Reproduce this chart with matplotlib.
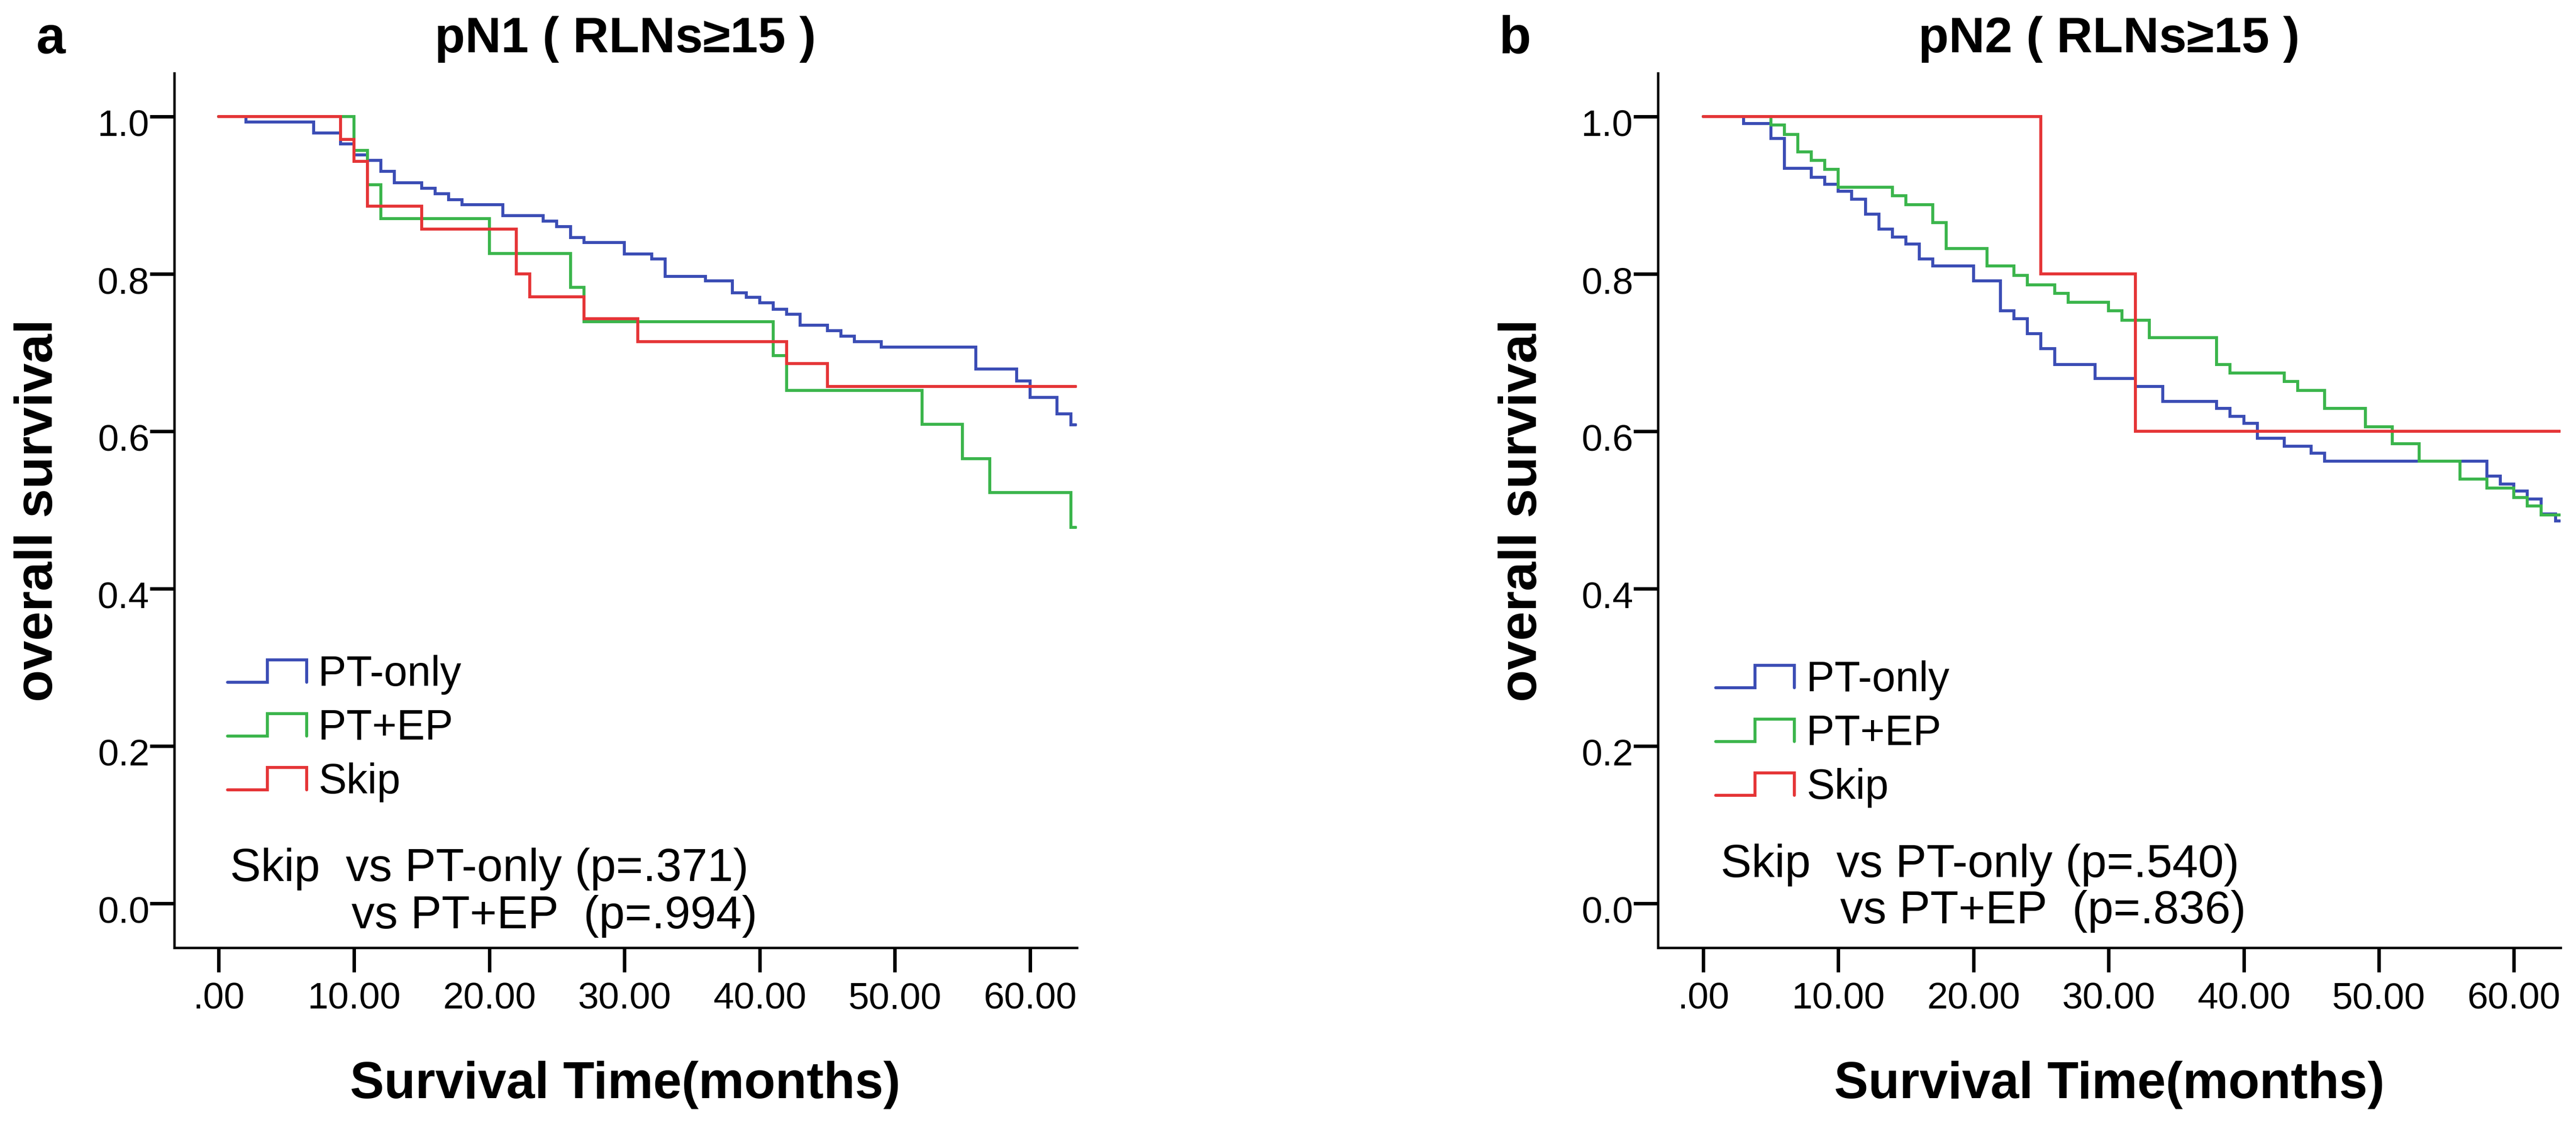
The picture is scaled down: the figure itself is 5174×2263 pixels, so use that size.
import matplotlib
matplotlib.use('Agg')
import matplotlib.pyplot as plt
import matplotlib.transforms as mtransforms
from matplotlib.legend_handler import HandlerBase
from matplotlib.lines import Line2D

plt.rcParams['font.family'] = ['Liberation Sans', 'DejaVu Sans']

# panel a : pN1 ( RLNs>=15 ), survival
a_pt_only_t = [0, 2, 7, 9, 10, 11, 12, 13, 15, 16, 17, 18, 21, 24, 25, 26, 27, 30, 32, 33,
               36, 38, 39, 40, 41, 42, 43, 45, 46, 47, 49, 56, 59, 60, 62, 63, 63.4]
a_pt_only_s = [1.0, .993, .979, .965, .951, .944, .930, .916, .909, .902, .894, .888, .874, .867,
               .860, .846, .840, .825, .819, .797, .791, .776, .770, .763, .755, .749, .735, .728,
               .721, .714, .707, .679, .664, .643, .622, .608, .608]
a_pt_ep_t = [0, 10, 11, 12, 20, 26, 27, 41, 42, 52, 55, 57, 63, 63.4]
a_pt_ep_s = [1.0, .957, .913, .870, .826, .783, .739, .696, .652, .609, .565, .522, .478, .478]
a_skip_t = [0, 9, 10, 11, 15, 22, 23, 27, 31, 42, 45, 63.4]
a_skip_s = [1.0, .971, .943, .886, .857, .800, .771, .743, .714, .686, .657, .657]

# panel b : pN2 ( RLNs>=15 )
b_pt_only_t = [0, 3, 5, 6, 8, 9, 10, 11, 12, 13, 14, 15, 16, 17, 20, 22, 23, 24, 25, 26,
               29, 32, 34, 38, 39, 40, 41, 43, 45, 46, 58, 59, 60, 61, 62, 63.1, 63.4]
b_pt_only_s = [1.0, .991, .972, .934, .923, .914, .905, .895, .876, .857, .847, .838, .819, .810,
               .791, .753, .743, .724, .705, .685, .667, .657, .638, .629, .619, .610, .591, .581,
               .572, .562, .543, .533, .524, .514, .495, .486, .486]
b_pt_ep_t = [0, 5, 6, 7, 8, 9, 10, 14, 15, 17, 18, 21, 23, 24, 26, 27, 30, 31, 33, 38,
             39, 43, 44, 46, 49, 51, 53, 56, 58, 60, 61, 62, 63.4]
b_pt_ep_s = [1.0, .989, .977, .955, .944, .933, .910, .899, .888, .865, .832, .810, .798, .786,
             .775, .764, .753, .741, .719, .685, .674, .663, .652, .629, .606, .584, .562, .539,
             .528, .516, .505, .494, .494]
b_skip_t = [0, 25, 32, 63.4]
b_skip_s = [1.0, 0.8, 0.6, 0.6]

group_names = ['PT-only', 'PT+EP', 'Skip']
group_colors = ['#3b4db5', '#3bb54c', '#e53537']
x_ticks = [0, 10, 20, 30, 40, 50, 60]
x_ticklabels = ['.00', '10.00', '20.00', '30.00', '40.00', '50.00', '60.00']
y_ticks = [0.0, 0.2, 0.4, 0.6, 0.8, 1.0]
y_ticklabels = ['0.0', '0.2', '0.4', '0.6', '0.8', '1.0']
titles = ['pN1 ( RLNs\u226515 )', 'pN2 ( RLNs\u226515 )']
panel_letters = ['a', 'b']
pvalue_lines = [['Skip  vs PT-only (p=.371)', 'vs PT+EP  (p=.994)'],
                ['Skip  vs PT-only (p=.540)', 'vs PT+EP  (p=.836)']]


class StepHandler(HandlerBase):
    # SPSS style legend key: low line, step up, step down
    def create_artists(self, legend, orig_handle, xdescent, ydescent, width, height, fontsize, trans):
        x0 = -xdescent
        lo = -ydescent + 0.12 * height
        hi = -ydescent + 0.88 * height
        xs = [x0, x0 + width / 2, x0 + width / 2, x0 + width, x0 + width]
        ys = [lo, lo, hi, hi, lo]
        line = Line2D(xs, ys, color=orig_handle.get_color(), lw=orig_handle.get_linewidth(),
                      solid_joinstyle='miter', solid_capstyle='round')
        line.set_transform(trans)
        return [line]


fig = plt.figure(figsize=(51.74, 22.63), dpi=100)
ax_a = fig.add_axes([0.0676, 0.1591, 0.3504, 0.776])
ax_b = fig.add_axes([0.6436, 0.1591, 0.3504, 0.776])

panels = [
    (ax_a, [(a_pt_only_t, a_pt_only_s), (a_pt_ep_t, a_pt_ep_s), (a_skip_t, a_skip_s)],
     -3.3, 0.66, 0.316, (0.85, 0.044), (9.8, -0.016)),
    (ax_b, [(b_pt_only_t, b_pt_only_s), (b_pt_ep_t, b_pt_ep_s), (b_skip_t, b_skip_s)],
     -3.35, 0.92, 0.309, (1.3, 0.049), (10.15, -0.010)),
]

for i, (ax, curves, xmin, leg_x, leg_y, txt1, txt2) in enumerate(panels):
    handles = []
    for (t, s), name, col in zip(curves, group_names, group_colors):
        h, = ax.step(t, s, where='post', color=col, lw=4.3, label=name,
                     solid_joinstyle='miter', solid_capstyle='round')
        handles.append(h)

    ax.set_xlim(xmin, 63.45)
    ax.set_ylim(-0.056, 1.055)
    ax.spines['top'].set_visible(False)
    ax.spines['right'].set_visible(False)
    ax.spines['left'].set_linewidth(3.5)
    ax.spines['bottom'].set_linewidth(3.5)
    ax.set_xticks(x_ticks)
    ax.set_xticklabels(x_ticklabels)
    ax.set_yticks(y_ticks)
    ax.set_yticklabels(y_ticklabels)
    ax.tick_params(axis='both', direction='out', length=35, width=5, labelsize=54)
    ax.tick_params(axis='x', pad=14)
    ax.tick_params(axis='y', pad=1)
    # y tick labels sit a little below their ticks in the original
    shift = mtransforms.ScaledTranslation(0, -9 / 72, fig.dpi_scale_trans)
    for lab in ax.get_yticklabels():
        lab.set_transform(lab.get_transform() + shift)

    ax.set_xlabel('Survival Time(months)', fontsize=74, fontweight='bold')
    ax.xaxis.set_label_coords(0.5, -0.157)
    ax.xaxis.label.set_va('center')
    ax.set_ylabel('overall survival', fontsize=76, fontweight='bold')
    ax.yaxis.set_label_coords(-0.150, 0.5)
    ax.yaxis.label.set_va('center')

    leg = ax.legend(handles=handles, loc='upper left', bbox_to_anchor=(leg_x, leg_y),
                    bbox_transform=ax.transData, frameon=False, fontsize=61,
                    handler_map={Line2D: StepHandler()}, handlelength=1.87,
                    handleheight=0.7, handletextpad=0.28, labelspacing=0.33,
                    borderpad=0, borderaxespad=0)

    ax.text(txt1[0], txt1[1], pvalue_lines[i][0], fontsize=67, ha='left', va='center')
    ax.text(txt2[0], txt2[1], pvalue_lines[i][1], fontsize=67, ha='left', va='center')

    pos = ax.get_position()
    fig.text(pos.x0 + pos.width / 2, 0.965, titles[i], fontsize=72, fontweight='bold',
             ha='center', va='center')

fig.text(0.0197, 0.965, panel_letters[0], fontsize=76, fontweight='bold', ha='center', va='center')
fig.text(0.588, 0.965, panel_letters[1], fontsize=76, fontweight='bold', ha='center', va='center')

fig.savefig('out.png', dpi=100, facecolor='white')
